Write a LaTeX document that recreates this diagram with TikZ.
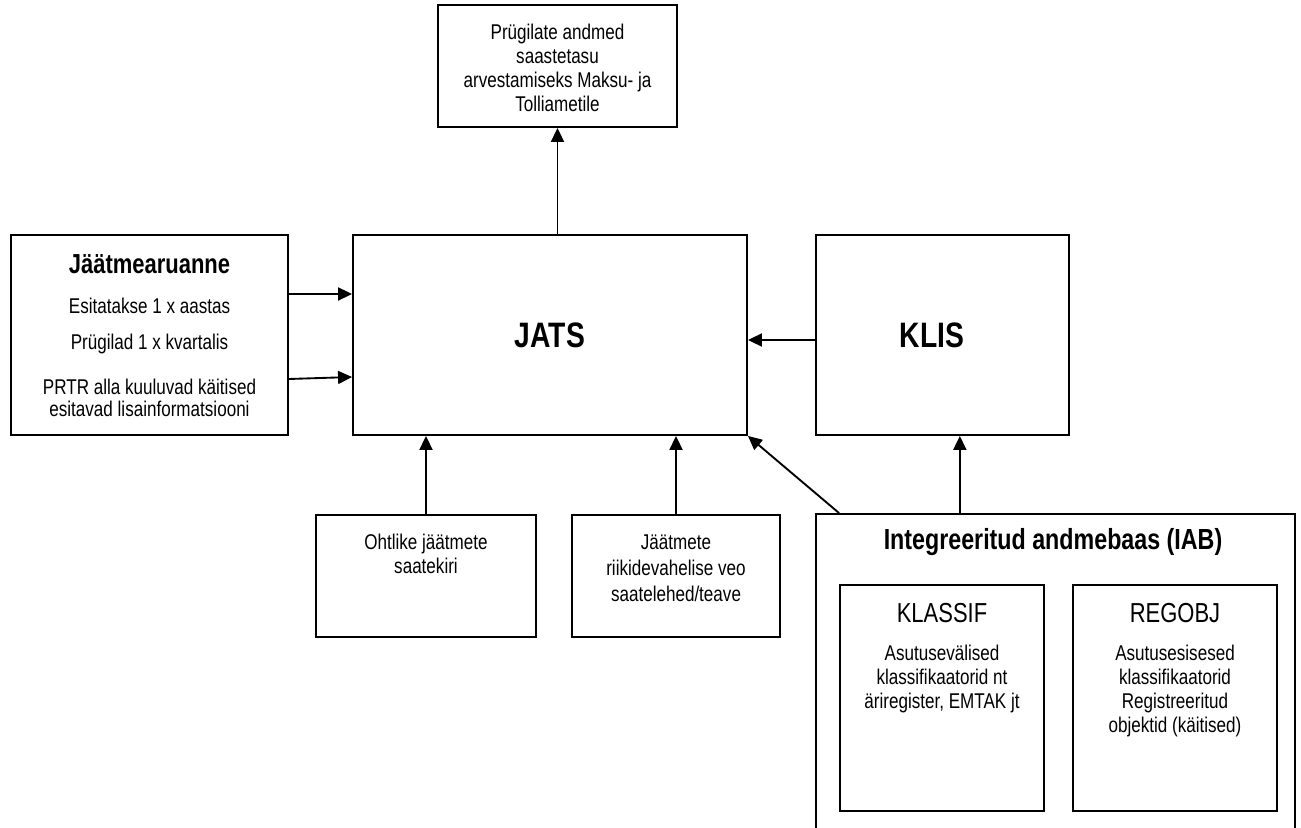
\documentclass[tikz,border=0pt]{standalone}
\usepackage{fontspec}
\setmainfont{Liberation Sans}[FakeStretch=0.8]
\usetikzlibrary{arrows.meta,calc}
\tikzset{
  box/.style={draw, line width=1.4pt, rectangle, inner sep=0pt},
  txt/.style={inner sep=0pt, align=center, font=\fontsize{16}{18}\selectfont},
  ttl/.style={inner sep=0pt, align=center, font=\fontsize{20.6}{24}\selectfont\bfseries},
  big/.style={inner sep=0pt, align=center, font=\fontsize{26.5}{30}\selectfont\bfseries},
  sub/.style={inner sep=0pt, align=center, font=\fontsize{20.6}{24}\selectfont},
  arr/.style={line width=1.4pt, -{Triangle[length=10.5pt,width=9.75pt]}}
}
\begin{document}
\begin{tikzpicture}[x=0.75pt,y=-0.75pt]
\useasboundingbox (0,0) rectangle (1301,827);
% boxes
\node[box, minimum width=179.25pt, minimum height=91.5pt] (top) at (557.5,66) {};
\node[box, minimum width=207.75pt, minimum height=150pt] (left) at (149.5,335) {};
\node[box, minimum width=295.5pt, minimum height=150pt] (jats) at (550,335) {};
\node[box, minimum width=189.75pt, minimum height=150pt] (klis) at (942.5,335) {};
\node[box, minimum width=165pt, minimum height=91.5pt] (oht) at (426,576) {};
\node[box, minimum width=156pt, minimum height=91.5pt] (riik) at (676,576) {};
\node[box, minimum width=359.25pt, minimum height=252pt] (iab) at (1055.5,682) {};
\node[box, minimum width=153pt, minimum height=169.5pt] (klassif) at (942,698) {};
\node[box, minimum width=153pt, minimum height=169.5pt] (regobj) at (1175,698) {};
% texts
\node[txt] (toptxt) at (557.5,68) {Prügilate andmed\\saastetasu\\arvestamiseks Maksu- ja\\Tolliametile};
\node[ttl] (lefttl) at (149.5,264) {Jäätmearuanne};
\node[txt] (left1) at (149.5,306) {Esitatakse 1 x aastas};
\node[txt] (left2) at (149.5,344) {Prügilad 1 x kvartalis};
\node[txt, font=\fontsize{16}{16.5}\selectfont] (left3) at (149.5,398) {PRTR alla kuuluvad käitised\\esitavad lisainformatsiooni};
\node[big] (jatstxt) at (550,335) {JATS};
\node[big] (klistxt) at (932,335) {KLIS};
\node[txt] (ohttxt) at (426,554) {Ohtlike jäätmete\\saatekiri};
\node[txt, font=\fontsize{16}{19.5}\selectfont] (riiktxt) at (676,568) {Jäätmete\\riikidevahelise veo\\saatelehed/teave};
\node[ttl, font=\fontsize{21.8}{24}\selectfont\bfseries] (iabtxt) at (1053,542) {Integreeritud andmebaas (IAB)};
\node[sub] (klassiftl) at (942,613) {KLASSIF};
\node[sub] (regobjtl) at (1175,613) {REGOBJ};
\node[txt] (klassiftxt) at (942,679) {Asutusevälised\\klassifikaatorid nt\\äriregister, EMTAK jt};
\node[txt] (regobjtxt) at (1175,691) {Asutusesisesed\\klassifikaatorid\\Registreeritud\\objektid (käitised)};
% connectors
\draw[arr] (jats.north -| top.south) -- (top.south);
\draw[arr] ([yshift=30.75pt]left.east) -- ([yshift=30.75pt]jats.west);
\draw[arr] ([yshift=-33pt]left.east) -- ([yshift=-31.5pt]jats.west);
\draw[arr] ([yshift=-3.75pt]klis.west) -- ([yshift=-3.75pt]jats.east);
\draw[arr] (oht.north) -- (oht.north |- jats.south);
\draw[arr] (riik.north) -- (riik.north |- jats.south);
\draw[arr] ([xshift=18pt]iab.north west) -- (jats.south east);
\draw[arr] ([xshift=13pt]klis.south |- iab.north) -- ([xshift=13pt]klis.south);
\end{tikzpicture}
\end{document}
